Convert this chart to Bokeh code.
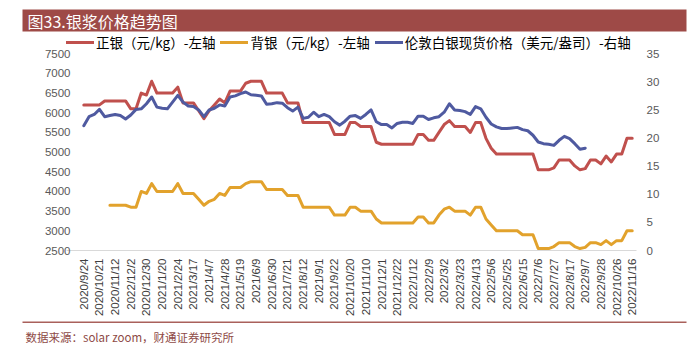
import math
import numpy as np
from bokeh.plotting import figure
from bokeh.layouts import column
from bokeh.models import (Range1d, LinearAxis, FixedTicker, Legend, LegendItem,
                          Label, BoxAnnotation)
from bokeh.embed import file_html
from bokeh.resources import INLINE

# ---- data ----
tick_labels = ["2020/9/24", "2020/10/21", "2020/11/12", "2022/12/2", "2020/12/30",
               "2021/1/20", "2021/2/24", "2021/3/17", "2021/4/7", "2021/4/28",
               "2021/5/19", "2021/6/9", "2021/6/30", "2021/7/21", "2021/8/12",
               "2021/9/1", "2021/9/22", "2021/10/20", "2021/11/10", "2021/12/1",
               "2021/12/22", "2022/1/12", "2022/2/9", "2022/3/2", "2022/3/23",
               "2022/4/13", "2022/5/6", "2022/5/25", "2022/6/15", "2022/7/6",
               "2022/7/27", "2022/8/17", "2022/9/7", "2022/9/28", "2022/10/26",
               "2022/11/16"]

zhengyin = [6200, 6200, 6200, 6200, 6300, 6300, 6300, 6300, 6300, 6100,
            6100, 6500, 6450, 6800, 6500, 6500, 6500, 6500, 6650, 6250,
            6250, 6250, 6050, 5850, 6050, 6200, 6350, 6250, 6550, 6550,
            6550, 6750, 6800, 6800, 6800, 6500, 6500, 6500, 6500, 6250,
            6250, 6250, 5750, 5750, 5750, 5750, 5750, 5750, 5450, 5450,
            5450, 5750, 5750, 5650, 5650, 5650, 5250, 5200, 5200, 5200,
            5200, 5200, 5200, 5200, 5450, 5450, 5300, 5300, 5500, 5700,
            5800, 5650, 5650, 5650, 5500, 5750, 5750, 5350, 5100, 4950,
            4950, 4950, 4950, 4950, 4950, 4950, 4950, 4550, 4550, 4550,
            4600, 4800, 4800, 4800, 4650, 4550, 4580, 4800, 4800, 4700,
            4900, 4750, 4950, 4950, 5350, 5350]

beiyin = [None, None, None, None, None, 3650, 3650, 3650, 3650, 3600,
          3600, 4000, 3950, 4200, 4000, 4000, 4000, 4000, 4200, 3950,
          3950, 3950, 3800, 3650, 3750, 3800, 3950, 3900, 4100, 4100,
          4100, 4200, 4250, 4250, 4250, 4050, 4050, 4050, 4050, 3900,
          3900, 3900, 3600, 3600, 3600, 3600, 3600, 3600, 3400, 3400,
          3400, 3600, 3600, 3500, 3500, 3500, 3300, 3200, 3200, 3200,
          3200, 3200, 3200, 3200, 3350, 3350, 3200, 3200, 3400, 3550,
          3600, 3500, 3500, 3500, 3400, 3600, 3600, 3300, 3150, 3000,
          3000, 3000, 3000, 3000, 2900, 2900, 2900, 2550, 2550, 2550,
          2600, 2700, 2700, 2700, 2600, 2550, 2580, 2700, 2700, 2650,
          2750, 2650, 2750, 2750, 3000, 3000]

london = [22.2, 23.8, 24.2, 25.1, 23.8, 24.0, 24.2, 24.0, 23.4, 24.1,
          25.1, 25.2, 26.1, 27.3, 25.5, 25.3, 25.2, 26.4, 27.6, 26.4,
          25.7, 25.6, 25.0, 23.8, 25.0, 25.3, 25.9, 25.7, 27.3, 27.5,
          27.9, 28.2, 27.7, 27.6, 27.5, 26.0, 26.1, 26.3, 26.2, 25.4,
          24.8, 25.5, 23.5, 23.7, 24.6, 23.8, 24.2, 23.8, 22.9, 22.3,
          23.0, 23.9, 24.0, 23.5, 24.2, 25.0, 22.9, 22.4, 22.4, 21.8,
          22.6, 22.8, 22.8, 22.6, 23.9, 23.9, 23.3, 23.6, 23.8, 24.6,
          26.1, 25.0, 24.9, 24.7, 24.2, 25.6, 25.2, 23.7, 22.5, 22.0,
          21.7, 21.7, 21.8, 21.9, 21.5, 21.3, 20.5, 19.3, 19.0, 18.9,
          18.7, 19.6, 20.3, 19.9, 19.0, 18.0, 18.2, None, None, None,
          None, None, None, None, None, None]

series_names = ["正银（元/kg）-左轴", "背银（元/kg）-左轴", "伦敦白银现货价格（美元/盎司）-右轴"]
left_ticks = [2500, 3000, 3500, 4000, 4500, 5000, 5500, 6000, 6500, 7000, 7500]
right_ticks = [0, 5, 10, 15, 20, 25, 30, 35]
title_text = "图33.银浆价格趋势图"
source_text = "数据来源：solar zoom，财通证券研究所"

def arr(v):
    return np.array([np.nan if a is None else a for a in v], dtype=float)

x = np.arange(len(zhengyin))

RED = "#C0504D"
GOLD = "#E2A22C"
BLUE = "#4F5AA0"
CJK = "Noto Sans CJK SC"
W = 691
H_HEAD, H_MAIN, H_FOOT = 33, 286, 28

def bare(fig):
    fig.xaxis.visible = False
    fig.yaxis.visible = False
    fig.xgrid.visible = False
    fig.ygrid.visible = False
    return fig

# ---------- header: title band ----------
head = bare(figure(width=W, height=H_HEAD, output_backend="svg", toolbar_location=None,
                   x_range=Range1d(0, W), y_range=Range1d(H_HEAD, 0),
                   min_border=0, outline_line_color=None, frame_align=False,
                   background_fill_color="white", border_fill_color="white"))
head.add_layout(BoxAnnotation(left=22, right=686, top=9, bottom=31,
                              fill_color="#9E4A47", fill_alpha=1, line_color=None))
head.add_layout(Label(x=27, y=20, text=title_text, text_color="white",
                      text_font=CJK, text_font_size="16px",
                      text_align="left", text_baseline="middle"))

# ---------- main chart (frame also holds the legend strip) ----------
p = figure(width=W, height=H_MAIN, output_backend="svg", toolbar_location=None,
           x_range=Range1d(-3.31, 105.82), y_range=Range1d(2500, 8014),
           min_border_left=66, min_border_right=55, min_border_top=0,
           min_border_bottom=68, background_fill_color="white", frame_align=False,
           border_fill_color="white", outline_line_color=None)
p.extra_y_ranges = {"right": Range1d(0, 38.6)}
p.xgrid.visible = False
p.ygrid.visible = False

r1 = p.line(x, arr(zhengyin), line_color=RED, line_width=3, line_join="round", line_cap="round")
r2 = p.line(x, arr(beiyin), line_color=GOLD, line_width=3, line_join="round", line_cap="round")
r3 = p.line(x, arr(london), line_color=BLUE, line_width=3, line_join="round", line_cap="round",
            y_range_name="right")

xa = p.xaxis[0]
xa.ticker = FixedTicker(ticks=[3 * k for k in range(len(tick_labels))])
xa.major_label_overrides = {3 * k: t for k, t in enumerate(tick_labels)}
xa.major_label_orientation = math.pi / 2
xa.major_tick_line_color = None
xa.minor_tick_line_color = None
xa.major_tick_out = 0
xa.major_label_standoff = 8
xa.axis_line_color = "#D9D9D9"
xa.major_label_text_font = "Liberation Sans"
xa.major_label_text_font_size = "11.5px"
xa.major_label_text_color = "#404040"

def style_y(ax, standoff):
    ax.axis_line_color = None
    ax.major_tick_line_color = None
    ax.minor_tick_line_color = None
    ax.major_tick_out = 0
    ax.major_label_standoff = standoff
    ax.major_label_text_font = "Liberation Sans"
    ax.major_label_text_font_size = "11.5px"
    ax.major_label_text_color = "#595959"

ya = p.yaxis[0]
ya.ticker = FixedTicker(ticks=left_ticks)
style_y(ya, -4)

ra = LinearAxis(y_range_name="right", ticker=FixedTicker(ticks=right_ticks))
style_y(ra, 10)
p.add_layout(ra, "right")

legend = Legend(items=[LegendItem(label=n, renderers=[r])
                       for n, r in zip(series_names, [r1, r2, r3])],
                orientation="horizontal", location=(0, 198),
                label_text_font=CJK, label_text_font_size="13.5px",
                label_text_color="#000000", label_height=14,
                glyph_width=28, glyph_height=12, label_standoff=2, spacing=5,
                padding=0, margin=0, border_line_color=None,
                background_fill_alpha=0)
p.add_layout(legend, "center")

# ---------- footer: rule + source ----------
foot = bare(figure(width=W, height=H_FOOT, output_backend="svg", toolbar_location=None,
                   x_range=Range1d(0, W), y_range=Range1d(H_FOOT, 0),
                   min_border=0, outline_line_color=None, frame_align=False,
                   background_fill_color="white", border_fill_color="white"))
foot.add_layout(BoxAnnotation(left=22, right=686, top=2, bottom=3.4,
                              fill_color="#A9605B", fill_alpha=1, line_color=None))
foot.add_layout(Label(x=25, y=17, text=source_text, text_color="#8E4A46",
                      text_font=CJK, text_font_size="11.5px",
                      text_align="left", text_baseline="middle"))

layout = column(head, p, foot, spacing=0)
open("out.html", "w").write(file_html(layout, INLINE))
